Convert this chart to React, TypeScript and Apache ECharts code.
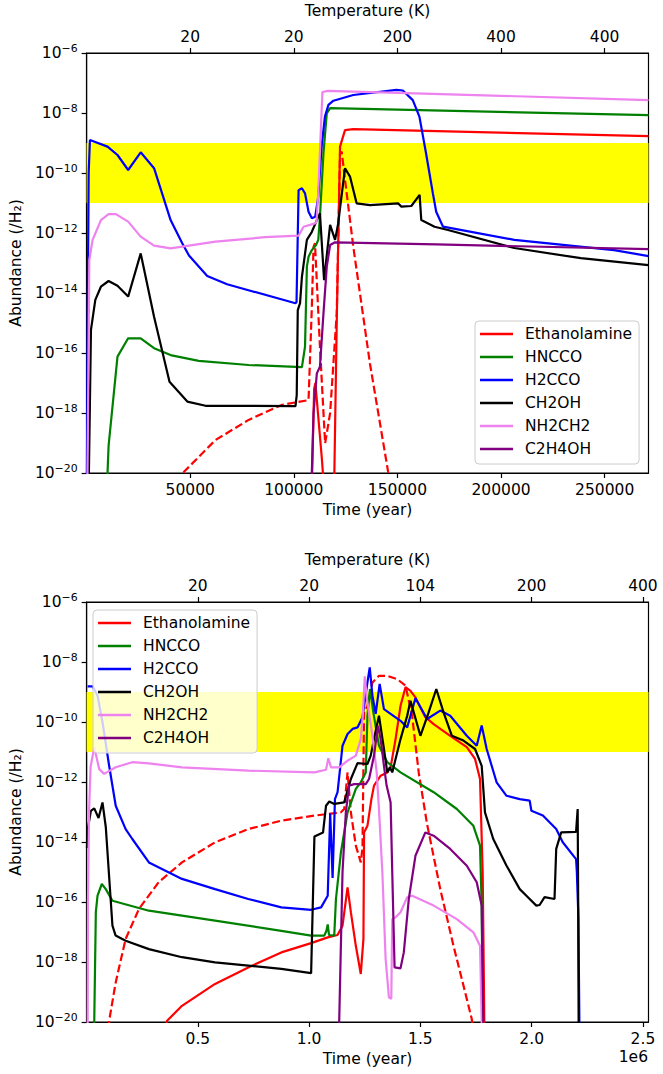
import React, { useEffect, useRef } from "react";
import * as echarts from "echarts";

type P = [number, number];

const FONT = "DejaVu Sans";
const FS = 15.5;

const SPECIES = ["Ethanolamine", "HNCCO", "H2CCO", "CH2OH", "NH2CH2", "C2H4OH"];
const COLORS = ["#ff0000", "#008000", "#0000ff", "#000000", "#ee82ee", "#800080"];

// axis ticks
const topTimeTicks = [50000, 100000, 150000, 200000, 250000];
const topTimeLabels = ["50000", "100000", "150000", "200000", "250000"];
const topTempLabels = ["20", "20", "200", "400", "400"];
const botTimeTicks = [500000, 1000000, 1500000, 2000000, 2500000];
const botTimeLabels = ["0.5", "1.0", "1.5", "2.0", "2.5"];
const botTempLabels = ["20", "20", "104", "200", "400"];
const yExpTicks = [-20, -18, -16, -14, -12, -10, -8, -6];
const bandLog = [-11, -9];
const topXMax = 271150;
const botXMax = 2525000;

// ---- Top panel: [time (yr), log10 abundance] ----
const topEthanolamine: P[] = [
  [108500, -21], [109800, -17.2], [110400, -17.0], [113500, -19.5], [115100, -21], [115500, -22],
  [119100, -22], [120700, -15], [122300, -9.12], [124700, -8.57], [128700, -8.54], [271150, -8.77],
];
const topEthanolamineIce: P[] = [
  [40000, -20.6], [47000, -19.96], [62200, -18.9], [78200, -18.23], [94200, -17.73], [107100, -17.57],
  [108700, -14.46], [109500, -12.46], [110200, -12.34], [112600, -15.79], [115100, -19.01], [117500, -18.01],
  [120700, -14.68], [122300, -9.34], [123100, -9.29], [124700, -10.23], [128700, -12.46], [136700, -16.34],
  [145500, -19.96], [150000, -21.5],
];
const topHNCCO: P[] = [
  [9900, -22], [10100, -20], [10600, -19.1], [14900, -16.12], [20050, -15.51], [26100, -15.51], [32550, -15.84],
  [40500, -16.07], [54100, -16.26], [78200, -16.4], [103900, -16.47], [105400, -15.79], [106300, -13.12],
  [107100, -12.79], [108700, -12.57], [110700, -12.4], [111800, -12.23], [112600, -11.46], [114300, -9.34],
  [115900, -8.01], [117500, -7.84], [271150, -8.07],
];
const topH2CCO: P[] = [
  [0, -22], [600, -14], [1000, -10], [1600, -8.9], [10100, -9.12], [14900, -9.4], [20050, -9.9], [26100, -9.31],
  [32550, -9.84], [40530, -11.57], [46150, -12.34], [49400, -12.75], [58200, -13.43], [67800, -13.71],
  [100800, -14.34], [101300, -14.3], [102300, -10.57], [103900, -10.51], [105400, -10.68], [107100, -11.29],
  [108700, -11.51], [110300, -11.46], [111800, -10.79], [113400, -9.12], [115000, -8.12], [116700, -7.73],
  [119100, -7.59], [128700, -7.4], [149500, -7.23], [152600, -7.25], [157400, -7.57], [160600, -8.12],
  [163800, -9.34], [167100, -10.68], [168700, -11.29], [172000, -11.79], [206400, -12.23], [254500, -12.57],
  [271150, -12.77],
];
const topCH2OH: P[] = [
  [0, -22], [900, -21], [2100, -15.23], [4200, -14.23], [6900, -13.79], [10600, -13.6], [14900, -13.76],
  [20050, -14.12], [26100, -12.68], [32550, -14.79], [40000, -16.96], [48600, -17.62], [57400, -17.76],
  [100800, -17.77], [101400, -17.4], [101900, -14.57], [103000, -14.34], [103900, -13.46], [106300, -12.23],
  [108700, -11.96], [111100, -11.57], [112600, -11.34], [114600, -13.57], [117500, -11.73], [119900, -12.23],
  [121400, -11.68], [124700, -9.84], [127100, -10.12], [130300, -11.01], [136700, -11.07], [150300, -11.01],
  [151900, -11.12], [156700, -11.1], [160700, -10.73], [161500, -11.57], [167900, -11.79], [174400, -11.9],
  [206400, -12.5], [238500, -12.84], [271150, -13.07],
];
const topNH2CH2: P[] = [
  [0, -22], [300, -21], [1300, -12.9], [2900, -12.23], [6900, -11.57], [10600, -11.37], [14100, -11.37],
  [20050, -11.62], [26100, -12.12], [32550, -12.42], [40500, -12.51], [62200, -12.29], [86200, -12.14],
  [102300, -12.09], [104700, -11.79], [110200, -11.68], [111000, -11.62], [111800, -10.6], [113800, -7.3],
  [116600, -7.26], [271150, -7.57],
];
const topC2H4OH: P[] = [
  [108400, -21], [108700, -19.96], [109500, -18.01], [111100, -16.68], [112600, -16.46], [114300, -14.68],
  [115900, -13.12], [117500, -12.4], [119900, -12.31], [168800, -12.38], [271150, -12.54],
];

// ---- Bottom panel: [time (yr), log10 abundance] ----
const botEthanolamine: P[] = [
  [339000, -20.6], [361600, -19.96], [428600, -19.46], [577200, -18.73], [726300, -18.18], [875000, -17.68],
  [1008900, -17.37], [1083500, -17.18], [1127700, -17.1], [1150000, -16.79], [1172600, -15.51],
  [1187500, -16.34], [1209800, -17.46], [1232100, -18.4], [1244000, -17.23], [1246800, -13.68],
  [1262000, -13.46], [1279800, -12.57], [1291500, -12.12], [1321400, -11.79], [1351200, -11.68],
  [1366100, -11.51], [1388400, -10.57], [1410700, -9.46], [1433000, -8.84], [1455400, -8.96],
  [1477700, -9.18], [1522300, -9.84], [1559500, -10.07], [1633900, -10.46], [1708500, -10.84],
  [1745500, -11.23], [1767900, -11.9], [1779800, -15.01], [1787100, -19.9], [1790000, -22],
];
const botEthanolamineIce: P[] = [
  [98200, -21], [101300, -19.96], [130800, -18.68], [175400, -17.23], [235300, -16.23], [324100, -15.34],
  [428600, -14.68], [577200, -14.01], [726300, -13.57], [875000, -13.29], [1023700, -13.12],
  [1142900, -13.01], [1157500, -12.9], [1172600, -11.68], [1187500, -13.01], [1209800, -14.12],
  [1232100, -14.68], [1239700, -14.2], [1246800, -9.68], [1262000, -9.46], [1284400, -8.68],
  [1313800, -8.46], [1351200, -8.46], [1395800, -8.57], [1433000, -8.79], [1462900, -9.8],
  [1492400, -11.68], [1529800, -13.4], [1589300, -15.57], [1648700, -17.46], [1708500, -19.23],
  [1730800, -19.9], [1745500, -20.8],
];
const botHNCCO: P[] = [
  [33500, -22], [34400, -19.96], [41500, -16.34], [49100, -15.79], [68300, -15.4], [86200, -15.57],
  [116100, -15.96], [279900, -16.29], [577200, -16.62], [875000, -16.96], [1008900, -17.12],
  [1068300, -17.12], [1078000, -16.95], [1083500, -16.75], [1089300, -17.1], [1112800, -17.12],
  [1120500, -15.9], [1142900, -14.34], [1172600, -13.01], [1209800, -12.23], [1232100, -12.01],
  [1254500, -11.68], [1262000, -9.79], [1273400, -8.9], [1288500, -9.68], [1313800, -10.79],
  [1351200, -11.34], [1410700, -11.68], [1559500, -12.34], [1663700, -12.9], [1738000, -13.46],
  [1767900, -14.12], [1775400, -16.12], [1779800, -19.9], [1781000, -22],
];
const botH2CCO: P[] = [
  [4500, -8.81], [26800, -8.81], [49100, -9.12], [71400, -10.0], [101300, -11.46], [130800, -12.79],
  [175400, -13.57], [205400, -13.9], [279900, -14.68], [428600, -15.23], [577200, -15.57], [726300, -15.9],
  [875000, -16.18], [1008900, -16.26], [1053600, -16.18], [1083500, -15.79], [1094600, -13.05],
  [1105400, -15.2], [1116000, -12.57], [1127700, -12.34], [1150000, -10.79], [1172600, -10.4],
  [1195100, -10.23], [1217400, -10.18], [1239700, -9.84], [1262000, -8.68], [1272300, -8.18],
  [1284400, -9.12], [1299100, -9.73], [1316900, -8.73], [1336200, -9.57], [1410700, -9.96],
  [1440600, -10.18], [1477700, -9.21], [1530000, -9.9], [1589300, -9.62], [1633900, -9.79],
  [1708500, -10.46], [1753100, -10.79], [1775400, -10.12], [1797800, -10.9], [1842400, -12.01],
  [1887100, -12.46], [1946400, -12.57], [1991100, -12.62], [1998700, -12.96], [2050400, -13.12],
  [2110300, -13.57], [2139700, -14.01], [2199500, -14.57], [2203000, -15.0], [2210000, -16.5],
  [2214300, -20], [2216000, -22],
];
const botCH2OH: P[] = [
  [1500, -14.2], [4500, -13.6], [19200, -12.96], [34400, -12.88], [53600, -13.2], [71400, -12.68],
  [86200, -13.5], [116100, -16.79], [130400, -17.12], [175400, -17.29], [279900, -17.57], [428600, -17.84],
  [577200, -18.01], [726300, -18.12], [875000, -18.23], [1008900, -18.37], [1023700, -13.82],
  [1062500, -13.68], [1075900, -12.79], [1090600, -12.65], [1112900, -12.73], [1157500, -12.68],
  [1187500, -11.9], [1217400, -11.37], [1262000, -11.4], [1276800, -11.12], [1291500, -10.57],
  [1313800, -9.79], [1336200, -10.9], [1351200, -11.68], [1362900, -11.51], [1373500, -11.68],
  [1410700, -10.57], [1440600, -9.79], [1455400, -9.29], [1470100, -9.68], [1500000, -10.46],
  [1537100, -9.68], [1571400, -8.9], [1604000, -9.68], [1641500, -10.46], [1693300, -10.62],
  [1745500, -10.9], [1775400, -11.46], [1790200, -13.01], [1827400, -13.9], [1887100, -14.79],
  [1946400, -15.57], [1976300, -15.79], [2020900, -16.12], [2035700, -16.1], [2058000, -15.84],
  [2102700, -15.9], [2110300, -14.23], [2132600, -13.68], [2199500, -13.66], [2206700, -12.9],
  [2209000, -16], [2211000, -19.9], [2212000, -22],
];
const botNH2CH2: P[] = [
  [4500, -21], [6000, -16], [11000, -13], [17900, -11.5], [34400, -10.84], [56700, -11.57], [79000, -11.73],
  [130800, -11.51], [205400, -11.34], [279900, -11.38], [428600, -11.51], [726300, -11.62],
  [1023700, -11.68], [1075900, -11.59], [1086200, -11.21], [1098200, -11.51], [1135300, -11.51],
  [1172600, -11.29], [1209800, -11.12], [1232100, -10.57], [1241000, -9.8], [1250000, -8.48],
  [1259000, -9.2], [1284400, -10.46], [1303600, -11.68], [1313800, -12.9], [1329000, -15.01],
  [1343800, -17.9], [1358500, -19.18], [1369200, -19.23], [1373500, -16.57], [1388400, -16.51],
  [1410700, -16.34], [1440600, -15.84], [1462900, -15.79], [1559500, -16.12], [1663700, -16.57],
  [1738000, -17.01], [1767900, -17.46], [1775400, -19.9], [1777000, -22],
];
const botC2H4OH: P[] = [
  [1131700, -22], [1135300, -19.9], [1150000, -15.01], [1164900, -13.01], [1179500, -12.12],
  [1202200, -12.07], [1254500, -12.07], [1269200, -11.9], [1291500, -11.12], [1309400, -10.12],
  [1321400, -10.57], [1336200, -11.46], [1348200, -12.12], [1366100, -12.68], [1373500, -15.01],
  [1383900, -18.18], [1410700, -18.21], [1425400, -17.68], [1447800, -15.9], [1477700, -14.46],
  [1522300, -13.68], [1559500, -13.79], [1633900, -14.23], [1708500, -14.79], [1753100, -15.34],
  [1775400, -16.12], [1782600, -19.9], [1784000, -22],
];

const topSolid = [topEthanolamine, topHNCCO, topH2CCO, topCH2OH, topNH2CH2, topC2H4OH];
const botSolid = [botEthanolamine, botHNCCO, botH2CCO, botCH2OH, botNH2CH2, botC2H4OH];

const axisLineStyle = { color: "#000", width: 1.2 };
const labelBase = { color: "#000", fontSize: FS, fontFamily: FONT };

function panelAxes(gridIndex: number, max: number, ticks: number[], botLabels: string[], topLabels: string[]) {
  const common = {
    type: "value" as const,
    gridIndex,
    min: 0,
    max,
    splitLine: { show: false },
    axisLine: { show: true, lineStyle: axisLineStyle },
    axisTick: { show: true, length: 5, lineStyle: axisLineStyle, customValues: ticks },
    nameLocation: "middle" as const,
    nameTextStyle: { ...labelBase },
  };
  return [
    {
      ...common,
      position: "bottom",
      name: "Time (year)",
      nameGap: 29,
      axisLabel: {
        ...labelBase,
        margin: 9,
        customValues: ticks,
        formatter: (v: number) => {
          const i = ticks.indexOf(v);
          return i >= 0 ? botLabels[i] : "";
        },
      },
    },
    {
      ...common,
      position: "top",
      name: "Temperature (K)",
      nameGap: 34,
      axisLabel: {
        ...labelBase,
        margin: 8,
        customValues: ticks,
        formatter: (v: number) => {
          const i = ticks.indexOf(v);
          return i >= 0 ? topLabels[i] : "";
        },
      },
    },
  ];
}

function yAxisFor(gridIndex: number) {
  return {
    type: "value",
    gridIndex,
    min: yExpTicks[0],
    max: yExpTicks[yExpTicks.length - 1],
    interval: 2,
    splitLine: { show: false },
    axisLine: { show: true, lineStyle: axisLineStyle },
    axisTick: { show: true, length: 5, lineStyle: axisLineStyle },
    name: "Abundance (/H\u2082)",
    nameLocation: "middle",
    nameGap: 60,
    nameTextStyle: { ...labelBase },
    axisLabel: {
      margin: 9,
      formatter: (v: number) => `{b|10}{s|\u2212${Math.abs(Math.round(v))}}`,
      rich: {
        b: { fontSize: FS, fontFamily: FONT, color: "#000", lineHeight: 20, verticalAlign: "middle" },
        s: { fontSize: 10.9, fontFamily: FONT, color: "#000", lineHeight: 10, verticalAlign: "top" },
      },
    },
  };
}

function panelSeries(panel: number, solids: P[][], ice: P[]) {
  const xi = panel * 2;
  const yi = panel;
  const list: any[] = [
    {
      type: "line",
      name: "band" + panel,
      xAxisIndex: xi,
      yAxisIndex: yi,
      data: [],
      z: 1,
      silent: true,
      markArea: {
        silent: true,
        itemStyle: { color: "#ffff00", opacity: 1 },
        data: [[{ yAxis: bandLog[0] }, { yAxis: bandLog[1] }]],
      },
    },
  ];
  solids.forEach((d, i) => {
    list.push({
      type: "line",
      name: SPECIES[i],
      xAxisIndex: xi,
      yAxisIndex: yi,
      data: d,
      showSymbol: false,
      symbol: "none",
      clip: true,
      z: 2,
      lineStyle: { color: COLORS[i], width: 2.2 },
      itemStyle: { color: COLORS[i] },
    });
    if (i === 0) {
      list.push({
        type: "line",
        name: SPECIES[0] + " (ice)",
        xAxisIndex: xi,
        yAxisIndex: yi,
        data: ice,
        showSymbol: false,
        symbol: "none",
        clip: true,
        z: 2,
        lineStyle: { color: COLORS[0], width: 2.2, type: [8, 3.5] },
        itemStyle: { color: COLORS[0] },
      });
    }
  });
  return list;
}

function legendAt(left: number, top: number) {
  return {
    data: SPECIES,
    left,
    top,
    orient: "vertical",
    icon: "rect",
    itemWidth: 33,
    itemHeight: 2.4,
    itemGap: 7,
    padding: [5, 7, 7, 5],
    borderColor: "#cccccc",
    borderWidth: 1,
    borderRadius: 4,
    backgroundColor: "rgba(255,255,255,0.8)",
    selectedMode: false,
    textStyle: { ...labelBase, lineHeight: 16, padding: [0, 0, 0, 7] },
  };
}

export default function App() {
  const ref = useRef<HTMLDivElement>(null);
  useEffect(() => {
    if (!ref.current) return;
    const chart = echarts.init(ref.current, null, { renderer: "svg" });
    const option: any = {
      animation: false,
      backgroundColor: "#ffffff",
      textStyle: { fontFamily: FONT },
      grid: [
        { left: 85, top: 53, width: 563.5, height: 420, show: true, borderColor: "#000", borderWidth: 1.2, backgroundColor: "transparent" },
        { left: 85, top: 602, width: 563.5, height: 420, show: true, borderColor: "#000", borderWidth: 1.2, backgroundColor: "transparent" },
      ],
      xAxis: [
        ...panelAxes(0, topXMax, topTimeTicks, topTimeLabels, topTempLabels),
        ...panelAxes(1, botXMax, botTimeTicks, botTimeLabels, botTempLabels),
      ],
      yAxis: [yAxisFor(0), yAxisFor(1)],
      legend: [legendAt(475, 321), legendAt(93, 610)],
      graphic: [
        {
          type: "text",
          right: 15,
          top: 1049,
          style: { text: "1e6", fill: "#000", font: `${FS}px "${FONT}"`, textAlign: "right" },
        },
      ],
      series: [...panelSeries(0, topSolid, topEthanolamineIce), ...panelSeries(1, botSolid, botEthanolamineIce)],
    };
    chart.setOption(option);
    return () => chart.dispose();
  }, []);
  return <div ref={ref} style={{ position: "absolute", left: 0, top: 0, width: 663, height: 1074 }} />;
}
